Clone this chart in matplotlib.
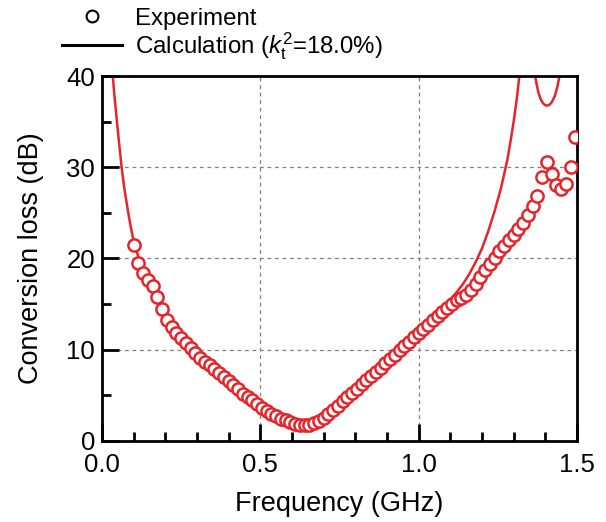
import matplotlib
matplotlib.use('Agg')
import matplotlib.pyplot as plt
from matplotlib.lines import Line2D

plt.rcParams['font.family'] = 'Liberation Sans'
plt.rcParams['mathtext.fontset'] = 'custom'
plt.rcParams['mathtext.rm'] = 'Liberation Sans'
plt.rcParams['mathtext.it'] = 'Liberation Sans:italic'

# measured conversion loss (GHz, dB)
freq_exp = [0.100, 0.115, 0.130, 0.145, 0.160, 0.175, 0.190, 0.205, 0.220, 0.235,
            0.250, 0.265, 0.280, 0.295, 0.310, 0.325, 0.340, 0.355, 0.370, 0.385,
            0.400, 0.415, 0.430, 0.445, 0.460, 0.475, 0.490, 0.505, 0.520, 0.535,
            0.550, 0.565, 0.580, 0.595, 0.610, 0.625, 0.640, 0.655, 0.670, 0.685,
            0.700, 0.715, 0.730, 0.745, 0.760, 0.775, 0.790, 0.805, 0.820, 0.835,
            0.850, 0.865, 0.880, 0.895, 0.910, 0.925, 0.940, 0.955, 0.970, 0.985,
            1.000, 1.015, 1.030, 1.045, 1.060, 1.075, 1.090, 1.105, 1.120, 1.135,
            1.150, 1.165, 1.180, 1.195, 1.210, 1.225, 1.240, 1.255, 1.270, 1.285,
            1.300, 1.315, 1.330, 1.345, 1.360, 1.375, 1.390, 1.405, 1.420, 1.435,
            1.450, 1.465, 1.480, 1.495]
loss_exp = [21.5, 19.5, 18.4, 17.6, 17.0, 15.8, 14.5, 13.3, 12.5, 11.8,
            11.25, 10.7, 10.2, 9.6, 9.1, 8.7, 8.3, 7.9, 7.5, 7.05,
            6.6, 6.1, 5.7, 5.2, 4.85, 4.5, 4.1, 3.65, 3.3, 3.0,
            2.7, 2.45, 2.25, 2.05, 1.9, 1.8, 1.75, 1.8, 1.95, 2.2,
            2.55, 2.95, 3.4, 3.85, 4.35, 4.8, 5.25, 5.75, 6.25, 6.7,
            7.15, 7.6, 8.05, 8.5, 8.95, 9.45, 9.95, 10.45, 10.9, 11.35,
            11.85, 12.3, 12.75, 13.25, 13.7, 14.15, 14.6, 15.0, 15.4, 15.7,
            16.0, 16.5, 17.2, 18.0, 18.7, 19.4, 20.1, 20.8, 21.4, 22.0,
            22.6, 23.2, 23.9, 24.8, 25.7, 26.8, 28.9, 30.6, 29.3, 28.0,
            27.6, 28.2, 30.0, 33.3]

# calculated curve, main branch
freq_calc = [0.031, 0.034, 0.040, 0.050, 0.062, 0.070, 0.083, 0.090, 0.097, 0.100,
             0.130, 0.200, 0.300, 0.400, 0.500, 0.600, 0.640, 0.700, 0.800, 0.900,
             1.000, 1.080, 1.100, 1.120, 1.140, 1.160, 1.180, 1.200, 1.220, 1.240,
             1.260, 1.280, 1.290, 1.300, 1.310, 1.318, 1.325]
loss_calc = [42.0, 40.0, 37.6, 34.0, 30.0, 27.8, 25.0, 23.6, 22.4, 21.9,
             18.4, 13.7, 9.5, 6.6, 3.8, 2.0, 1.75, 2.5, 5.6, 8.65,
             11.85, 14.6, 15.5, 16.3, 17.2, 18.3, 19.6, 21.1, 23.0, 25.2,
             27.7, 30.8, 32.8, 35.0, 37.5, 40.0, 43.0]
# calculated curve, second branch
freq_calc2 = [1.363, 1.366, 1.372, 1.378, 1.385, 1.393, 1.400, 1.406, 1.413, 1.420,
              1.430, 1.438, 1.446, 1.450]
loss_calc2 = [41.5, 40.3, 39.2, 38.2, 37.5, 37.0, 36.8, 36.75, 36.85, 37.1,
              37.8, 38.8, 40.2, 41.2]

red = '#e8242b'

fig = plt.figure(figsize=(6.06, 5.22), dpi=100)
ax = fig.add_axes([0.1683, 0.1552, 0.7838, 0.6992])

ax.plot(freq_calc, loss_calc, color=red, lw=1.8, zorder=2)
ax.plot(freq_calc2, loss_calc2, color=red, lw=1.8, zorder=2)
ax.plot(freq_exp, loss_exp, 'o', ms=8.8, mfc='white', mec=red, mew=1.8, zorder=3)

ax.set_xlim(0, 1.5)
ax.set_ylim(0, 40)
ax.set_xticks([0.0, 0.5, 1.0, 1.5])
ax.set_xticklabels(['0.0', '0.5', '1.0', '1.5'])
ax.set_xticks([0.1, 0.2, 0.3, 0.4, 0.6, 0.7, 0.8, 0.9, 1.1, 1.2, 1.3, 1.4], minor=True)
ax.set_yticks([0, 10, 20, 30, 40])
ax.set_yticks([5, 15, 25, 35], minor=True)
ax.tick_params(which='both', direction='in', width=2, labelsize=18.5)
ax.tick_params(which='major', length=12)
ax.tick_params(which='minor', length=6.5)
ax.tick_params(axis='x', pad=9)
ax.tick_params(axis='y', pad=5)
for s in ax.spines.values():
    s.set_linewidth(2)
ax.grid(True, which='major', ls=(0, (3, 3)), color='#808080', lw=0.9)

ax.set_xlabel('Frequency (GHz)', fontsize=19.5, labelpad=10)
ax.set_ylabel('Conversion loss (dB)', fontsize=19.5, labelpad=16)

handles = [Line2D([], [], ls='none', marker='o', ms=8.5, mfc='white', mec='black', mew=1.5),
           Line2D([], [], color='black', lw=2.2)]
labels = ['Experiment', r'Calculation ($k_\mathrm{t}^2$=18.0%)']
fig.legend(handles, labels, loc='upper left', bbox_to_anchor=(0.102, 0.985),
           frameon=False, fontsize=17.3, handlelength=2.5, handletextpad=0.55,
           labelspacing=0.0, borderaxespad=0, borderpad=0)

fig.savefig('out.png', dpi=100)
